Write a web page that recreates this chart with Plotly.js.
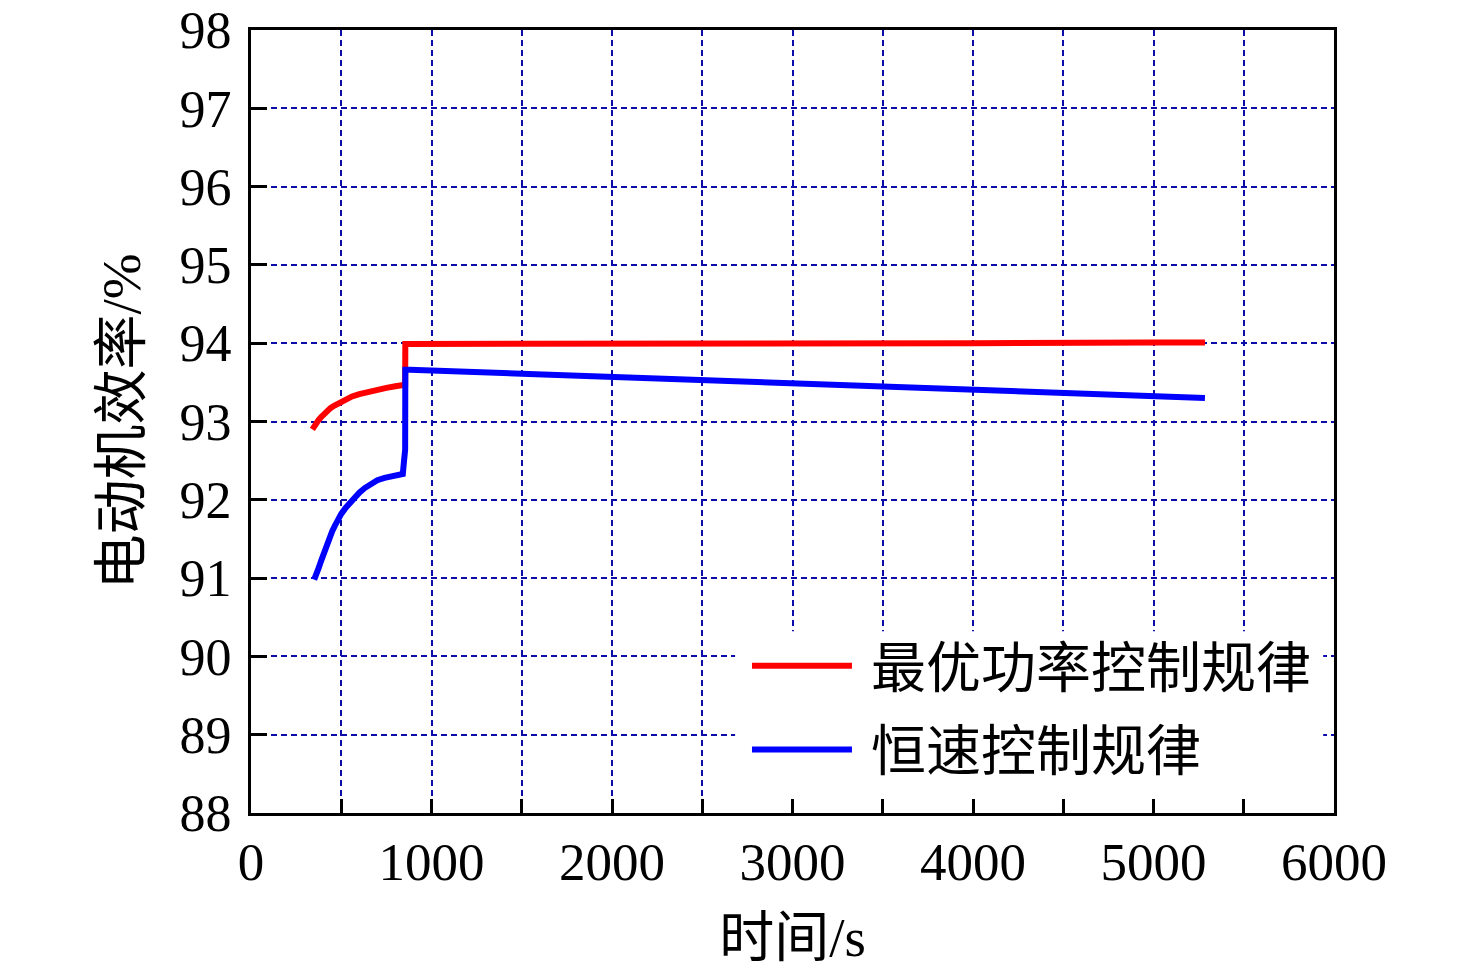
<!DOCTYPE html>
<html>
<head>
<meta charset="utf-8">
<script src="https://cdn.plot.ly/plotly-3.0.1.min.js"></script>
<style>
  html, body { margin: 0; padding: 0; background: #fff; }
  #chart { width: 1476px; height: 978px; }
</style>
</head>
<body>
<div id="chart"></div>
<script>
// 最优功率控制规律 (red)
const optimalTime = [340, 350, 362, 375, 390, 405, 420, 440, 460, 490, 520, 560, 600, 650, 700, 750, 800, 845, 854, 855, 1000, 2000, 3000, 4000, 5000, 5285];
const optimalEff = [92.90, 92.94, 92.98, 93.02, 93.06, 93.10, 93.13, 93.17, 93.20, 93.24, 93.28, 93.32, 93.35, 93.38, 93.41, 93.43, 93.45, 93.46, 93.47, 93.99, 93.99, 93.99, 94.00, 94.00, 94.01, 94.01];

// 恒速控制规律 (blue)
const constTime = [350, 360, 375, 390, 405, 420, 435, 450, 465, 480, 500, 525, 550, 575, 600, 630, 660, 700, 740, 780, 820, 841, 848, 854, 855, 880, 1500, 2000, 3000, 4000, 5000, 5285];
const constEff = [90.98, 91.03, 91.13, 91.23, 91.33, 91.43, 91.52, 91.60, 91.67, 91.74, 91.82, 91.90, 91.97, 92.04, 92.09, 92.15, 92.20, 92.25, 92.28, 92.30, 92.32, 92.33, 92.50, 92.64, 93.66, 93.66, 93.61, 93.57, 93.49, 93.41, 93.33, 93.30];

const xTickVals = [0, 500, 1000, 1500, 2000, 2500, 3000, 3500, 4000, 4500, 5000, 5500, 6000];
const xTickText = ["0", "", "1000", "", "2000", "", "3000", "", "4000", "", "5000", "", "6000"];
const yTickVals = [88, 89, 90, 91, 92, 93, 94, 95, 96, 97, 98];

const seriesNames = ["最优功率控制规律", "恒速控制规律"];
const seriesColors = ["#ff0000", "#0000ff"];

const fontFamily = "'Liberation Serif', 'Times New Roman', 'Noto Sans CJK SC', serif";
const gridColor = "#0c0ca8";

const traces = [
  {
    x: optimalTime,
    y: optimalEff,
    type: "scatter",
    mode: "lines",
    name: seriesNames[0],
    line: { color: seriesColors[0], width: 6 },
  },
  {
    x: constTime,
    y: constEff,
    type: "scatter",
    mode: "lines",
    name: seriesNames[1],
    line: { color: seriesColors[1], width: 6 },
  },
];

// hand-made legend so the sample lines can be as long as in the original
const legendShapes = [
  { type: "rect", xref: "paper", yref: "paper", x0: 0.447, x1: 0.99, y0: 0.02, y1: 0.232, fillcolor: "#fff", line: { width: 0 }, layer: "above" },
  { type: "line", xref: "paper", yref: "paper", x0: 0.4626, x1: 0.5549, y0: 0.188, y1: 0.188, line: { color: seriesColors[0], width: 6 }, layer: "above" },
  { type: "line", xref: "paper", yref: "paper", x0: 0.4626, x1: 0.5549, y0: 0.081, y1: 0.081, line: { color: seriesColors[1], width: 6 }, layer: "above" },
];

const legendLabels = seriesNames.map((name, i) => ({
  text: name,
  xref: "paper",
  yref: "paper",
  x: 0.571,
  y: i === 0 ? 0.185 : 0.078,
  xanchor: "left",
  yanchor: "middle",
  showarrow: false,
  font: { family: fontFamily, size: 55, color: "#000" },
}));

const layout = {
  width: 1476,
  height: 978,
  paper_bgcolor: "#fff",
  plot_bgcolor: "#fff",
  showlegend: false,
  margin: { l: 251, r: 142, t: 30, b: 165 },
  font: { family: fontFamily, size: 53, color: "#000" },
  xaxis: {
    range: [0, 6000],
    tickvals: xTickVals,
    ticktext: xTickText,
    ticks: "inside",
    ticklen: 14,
    tickwidth: 3,
    tickcolor: "#000",
    ticklabeloverflow: "allow",
    showline: true,
    linecolor: "#000",
    linewidth: 3,
    mirror: true,
    showgrid: true,
    gridcolor: gridColor,
    gridwidth: 2,
    griddash: "6px,4px",
    zeroline: false,
    title: { text: "时间/s", font: { family: fontFamily, size: 55 }, standoff: 28 },
  },
  yaxis: {
    range: [87.9999, 98.0001],
    tickvals: yTickVals,
    ticks: "inside",
    ticklen: 16,
    tickwidth: 3,
    tickcolor: "#000",
    tickfont: { family: fontFamily, size: 52 },
    ticklabelstandoff: 6,
    ticklabeloverflow: "allow",
    showline: true,
    linecolor: "#000",
    linewidth: 3,
    mirror: true,
    showgrid: true,
    gridcolor: gridColor,
    gridwidth: 2,
    griddash: "6px,4px",
    zeroline: false,
    title: { text: "电动机效率/%", font: { family: fontFamily, size: 55 }, standoff: 22 },
  },
  shapes: legendShapes,
  annotations: legendLabels,
};

const config = { displayModeBar: false, staticPlot: true };

Plotly.newPlot("chart", traces, layout, config);
</script>
</body>
</html>
